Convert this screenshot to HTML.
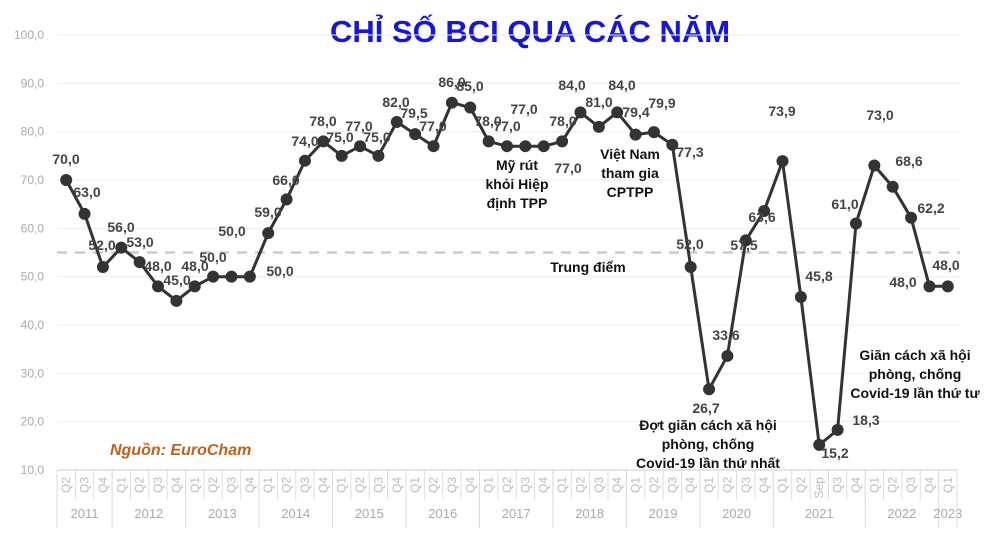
<!DOCTYPE html>
<html><head><meta charset="utf-8"><style>
html,body{margin:0;padding:0;background:#fff;}
svg{display:block;font-family:"Liberation Sans",sans-serif;}
.v{font-size:14px;font-weight:bold;fill:#444;text-anchor:middle;}
.a{font-size:14px;font-weight:bold;fill:#111;text-anchor:middle;}
.yl{font-size:12px;fill:#aaa;text-anchor:end;}
.q{font-size:12px;fill:#bbb;}
.yr{font-size:13px;fill:#aaa;text-anchor:middle;}
</style></head><body>
<svg width="1000" height="542" viewBox="0 0 1000 542">
<text x="530" y="42" font-size="31" font-weight="bold" fill="#1515e0" text-anchor="middle">CHỈ SỐ BCI QUA CÁC NĂM</text>
<g id="grid"></g>
<line x1="57" y1="252.5" x2="960" y2="252.5" stroke="#ccc" stroke-width="2.5" stroke-dasharray="10,8"/>
<g id="ax"></g>
<text x="110" y="455" font-size="16" font-style="italic" font-weight="bold" fill="#c0601a">Nguồn: EuroCham</text>
<g id="series"></g>
<g id="labels">
<text class="v" x="66" y="164">70,0</text><text class="v" x="87" y="197">63,0</text>
<text class="v" x="102" y="250">52,0</text><text class="v" x="121" y="232">56,0</text>
<text class="v" x="140" y="247">53,0</text><text class="v" x="158" y="271">48,0</text>
<text class="v" x="177" y="285">45,0</text><text class="v" x="195" y="271">48,0</text>
<text class="v" x="232" y="236">50,0</text><text class="v" x="213" y="262">50,0</text>
<text class="v" x="280" y="276">50,0</text><text class="v" x="268" y="217">59,0</text>
<text class="v" x="286" y="185">66,0</text><text class="v" x="305" y="146">74,0</text>
<text class="v" x="323" y="126">78,0</text><text class="v" x="340" y="142">75,0</text>
<text class="v" x="359" y="131">77,0</text><text class="v" x="377" y="142">75,0</text>
<text class="v" x="396" y="107">82,0</text><text class="v" x="414" y="118">79,5</text>
<text class="v" x="433" y="131">77,0</text><text class="v" x="452" y="87">86,0</text>
<text class="v" x="470" y="91">85,0</text><text class="v" x="488" y="126">78,0</text>
<text class="v" x="507" y="131">77,0</text><text class="v" x="524" y="114">77,0</text>
<text class="v" x="568" y="173">77,0</text><text class="v" x="563" y="126">78,0</text>
<text class="v" x="572" y="90">84,0</text><text class="v" x="599" y="107">81,0</text>
<text class="v" x="622" y="90">84,0</text><text class="v" x="636" y="117">79,4</text>
<text class="v" x="662" y="108">79,9</text><text class="v" x="690" y="157">77,3</text>
<text class="v" x="690" y="249">52,0</text><text class="v" x="706" y="413">26,7</text>
<text class="v" x="726" y="340">33,6</text><text class="v" x="744" y="250">57,5</text>
<text class="v" x="762" y="222">63,6</text><text class="v" x="782" y="116">73,9</text>
<text class="v" x="819" y="281">45,8</text><text class="v" x="835" y="458">15,2</text>
<text class="v" x="866" y="425">18,3</text><text class="v" x="845" y="209">61,0</text>
<text class="v" x="880" y="120">73,0</text><text class="v" x="909" y="166">68,6</text>
<text class="v" x="931" y="213">62,2</text><text class="v" x="903" y="287">48,0</text>
<text class="v" x="946" y="270">48,0</text>
</g>
<text class="a" x="517" y="170">Mỹ rút</text><text class="a" x="517" y="189">khỏi Hiệp</text><text class="a" x="517" y="208">định TPP</text>
<text class="a" x="630" y="159">Việt Nam</text><text class="a" x="630" y="178">tham gia</text><text class="a" x="630" y="197">CPTPP</text>
<text class="a" x="588" y="272">Trung điểm</text>
<text class="a" x="708" y="430">Đợt giãn cách xã hội</text><text class="a" x="708" y="449">phòng, chống</text><text class="a" x="708" y="468">Covid-19 lần thứ nhất</text>
<text class="a" x="915" y="360">Giãn cách xã hội</text><text class="a" x="915" y="379">phòng, chống</text><text class="a" x="915" y="398">Covid-19 lần thứ tư</text>
</svg>
<script>
var NS="http://www.w3.org/2000/svg";
function el(p,t,a,tx){var e=document.createElementNS(NS,t);for(var k in a)e.setAttribute(k,a[k]);if(tx!=null)e.textContent=tx;document.getElementById(p).appendChild(e);return e;}
function Y(v){return 470-(v-10)*4.833;}
var vals=[70,63,52,56,53,48,45,48,50,50,50,59,66,74,78,75,77,75,82,79.5,77,86,85,78,77,77,77,78,84,81,84,79.4,79.9,77.3,52,26.7,33.6,57.5,63.6,73.9,45.8,15.2,18.3,61,73,68.6,62.2,48,48];
var sp=900/49;function X(i){return 57+sp*(i+0.5);}
for(var v=10;v<=100;v+=10){var y=Y(v);if(v>10)el("grid","line",{x1:57,x2:960,y1:y,y2:y,stroke:"#eee","stroke-width":1});el("grid","text",{class:"yl",x:44,y:y+4},v+",0");}
var q=["Q2","Q3","Q4"];var yrs=[["2011",3]];
for(var yy=2012;yy<=2020;yy++)yrs.push([""+yy,4]);yrs.push(["2021",5],["2022",4],["2023",1]);
var ql=["Q2","Q3","Q4"];for(var yy=0;yy<9;yy++)ql=ql.concat(["Q1","Q2","Q3","Q4"]);ql=ql.concat(["Q1","Q2","Sep","Q3","Q4","Q1","Q2","Q3","Q4","Q1"]);
el("ax","line",{x1:57,x2:957,y1:470,y2:470,stroke:"#ccc"});
for(var i=0;i<=49;i++){el("ax","line",{x1:57+sp*i,x2:57+sp*i,y1:470,y2:500,stroke:"#ddd"});}
for(var i=0;i<49;i++){var x=X(i);el("ax","text",{class:"q",transform:"translate("+(x+4)+",477) rotate(-90)","text-anchor":"end"},ql[i]);}
var idx=0;for(var j=0;j<yrs.length;j++){var s=57+sp*idx,e=57+sp*(idx+yrs[j][1]);el("ax","line",{x1:s,x2:s,y1:470,y2:528,stroke:"#ddd"});el("ax","text",{class:"yr",x:(s+e)/2,y:518},yrs[j][0]);idx+=yrs[j][1];}
el("ax","line",{x1:957,x2:957,y1:470,y2:528,stroke:"#ddd"});
var pts=vals.map(function(v,i){return X(i).toFixed(1)+","+Y(v).toFixed(1)}).join(" ");
el("series","polyline",{points:pts,fill:"none",stroke:"#333","stroke-width":3});
vals.forEach(function(v,i){el("series","circle",{cx:X(i),cy:Y(v),r:6,fill:"#333"});});
</script>
</body></html>
